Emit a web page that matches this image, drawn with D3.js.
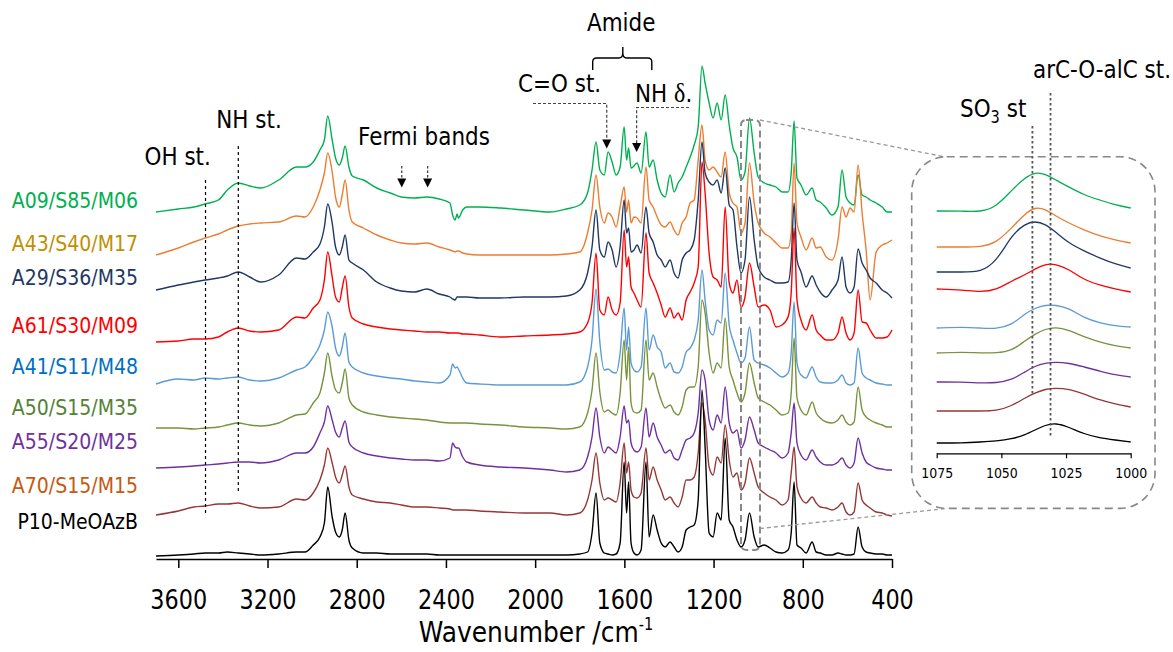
<!DOCTYPE html>
<html>
<head>
<meta charset="utf-8">
<script src="https://cdn.jsdelivr.net/npm/d3@7"></script>
<style>
body { margin: 0; background: #fff; }
svg { display: block; }
</style>
</head>
<body>
<script>
// wavenumber grid (cm-1), shared by all spectra
var wavenumbers = [3700,3600,3530,3480,3420,3380,3331,3280,3230,3150,3070,3032,2995,2965,2945,2930,2910,2895,2878,2865,2852,2835,2820,2770,2710,2650,2600,2540,2486,2430,2382,2370,2359,2350,2344,2325,2307,2250,2157,2050,1933,1860,
  1800,1765,1745,1727,1710,1690,1673,1655,1637,1619,1601,1590,1581,1570,1557,1543,1525,1503,1489,1471,1453,1435,1417,1395,1377,1359,1341,1323,1305,1287,1269,1252,1238,1220,1202,1184,1166,1148,1130,1113,
  1095,1077,1059,1039,1018,1000,973,947,920,893,866,852,839,826,808,785,758,740,722,695,669,642,624,606,588,570,552,534,516,498,471,444,422,400];

// stacked absorbance (offset, a.u.)
var a09 = [344,347,349,352,356,366,373,370,368,376,389,389,394,406,416,440,416,398,391,398,410,389,380,376,368,363,359,358,359,357,353,341,336,342,338,346,349,349,348,346,344,347,
  351,363,386,414,386,381,404,394,381,389,429,396,408,388,390,393,383,424,389,396,376,363,359,381,364,373,379,389,399,411,429,490,473,453,438,453,436,461,431,408,
  399,376,384,438,403,379,373,371,369,364,364,383,435,378,371,361,368,356,354,348,341,349,386,359,353,351,381,361,359,356,353,349,344,344];
var a43 = [301,308,314,318,322,326,330,332,333,334,340,339,349,366,383,403,384,359,349,361,376,346,334,328,321,316,313,312,313,309,306,305,304,305,305,303,302,301,301,301,301,302,
  304,323,346,381,349,333,343,339,329,349,369,344,356,333,339,338,333,389,356,349,339,331,329,334,326,321,333,339,353,356,396,431,396,386,389,384,379,404,363,353,
  349,323,333,393,353,333,323,319,313,308,308,323,393,333,319,306,318,308,309,299,296,316,349,339,348,344,391,343,306,256,304,311,313,316];
var a29 = [266,271,274,276,278,280,284,279,274,281,298,297,304,312,329,352,333,309,301,309,321,296,293,286,274,268,265,264,267,262,259,257,256,259,259,259,259,258,258,259,259,260,
  266,283,309,346,306,299,314,306,289,309,356,323,328,304,306,311,303,349,323,314,301,296,289,296,283,278,296,303,306,316,356,414,383,374,371,376,363,388,351,346,
  309,283,296,359,316,289,279,276,273,273,274,296,353,296,284,269,280,271,264,259,266,276,299,269,263,269,307,293,286,278,273,266,263,258];
var a61 = [214,215,217,217,219,224,228,225,224,226,239,238,248,256,276,304,279,259,254,268,280,249,238,232,229,227,226,225,224,224,223,223,223,223,223,222,222,221,219,220,221,222,
  224,233,253,303,246,241,259,246,241,253,326,289,299,269,263,256,249,323,283,273,263,251,239,248,238,243,236,256,264,273,289,394,363,303,279,276,269,349,273,263,
  276,249,259,293,269,249,251,246,229,231,239,263,328,256,236,226,241,226,221,216,216,223,239,223,216,223,266,234,233,226,218,218,219,226];
var a41 = [172,177,176,178,177,178,179,176,175,178,186,189,199,211,226,244,229,208,200,209,223,194,189,183,180,178,177,175,174,173,181,192,188,189,187,178,173,172,171,171,171,171,
  174,189,216,267,214,186,187,184,183,203,248,206,229,193,186,184,189,248,206,221,209,204,188,193,184,183,189,204,208,216,236,286,256,226,221,236,233,283,231,216,
  203,193,198,229,196,193,191,188,183,179,183,203,254,193,181,178,189,179,174,173,173,176,181,173,171,173,208,183,178,176,173,172,171,171];
var a50 = [128,128,127,128,129,131,133,131,130,133,141,142,153,163,183,203,179,166,163,173,187,158,151,144,141,139,138,137,136,134,133,133,133,133,133,133,133,132,131,129,128,127,
  129,143,166,203,164,144,146,143,141,163,216,176,209,153,144,143,146,216,176,183,169,156,148,151,144,141,149,166,169,169,189,256,243,203,183,193,188,238,189,176,
  163,154,163,193,173,158,154,151,146,141,143,163,218,158,146,141,154,143,138,134,133,136,141,134,131,134,169,146,139,136,133,131,129,129];
var a55 = [88,89,90,91,92,93,94,94,93,96,103,103,109,123,134,150,136,124,119,128,135,114,109,103,100,98,97,96,96,95,98,113,109,108,108,99,94,91,89,88,86,84,
  86,99,119,148,119,103,109,106,103,119,150,133,136,113,106,104,109,148,119,133,119,111,103,106,98,96,106,116,118,123,143,186,176,136,126,141,133,169,133,123,
  126,108,116,139,126,113,109,106,103,98,103,123,153,113,101,96,106,99,94,91,91,94,98,91,88,93,118,103,94,91,88,87,86,86];
var a70 = [41,45,49,50,52,52,53,50,48,49,57,56,63,76,91,108,93,79,73,81,90,69,61,57,54,53,51,49,49,48,47,46,46,46,46,46,46,45,44,43,43,41,
  43,56,76,103,73,56,58,56,54,73,113,83,94,66,59,58,63,108,76,89,76,66,56,59,53,49,59,76,76,79,103,153,136,89,81,99,93,131,96,79,
  83,66,73,98,83,69,63,59,56,51,56,83,109,69,58,53,59,53,49,48,46,49,53,44,41,44,73,56,51,48,44,43,41,40];
var p10 = [0,1,2,3,3,4,3,2,1,2,4,4,11,19,33,69,39,24,19,26,43,16,8,3,3,2,2,2,2,1,1,1,1,1,1,1,1,1,1,1,1,1,
  2,4,23,63,13,3,2,1,2,13,94,43,74,13,3,1,6,94,19,41,26,13,9,14,9,4,9,26,29,31,56,166,109,23,19,43,36,118,36,29,
  16,9,16,43,19,9,11,8,4,3,6,23,74,11,8,3,14,4,3,1,1,3,2,1,1,2,29,9,4,3,2,2,1,1];

var sampleNames = ["A09/S85/M06","A43/S40/M17","A29/S36/M35","A61/S30/M09","A41/S11/M48","A50/S15/M35","A55/S20/M25","A70/S15/M15","P10-MeOAzB"];
var spectra = [a09, a43, a29, a61, a41, a50, a55, a70, p10];

// zoomed 1075-1000 cm-1 region (inset), stacked
var insetWn = [1075,1065,1058,1052,1046,1041,1037,1033,1029,1024,1018,1012,1006,1000];
var insetA09 = [242,242,241,246,263,275,281,279,273,266,258,253,248,245];
var insetA43 = [206,206,206,210,225,239,246,244,237,230,223,217,213,210];
var insetA29 = [181,181,181,191,218,229,232,229,221,210,202,195,189,185];
var insetA61 = [164,163,161,163,172,178,184,189,189,184,173,168,164,161];
var insetA41 = [125,126,125,124,128,139,145,148,148,145,135,130,127,126];
var insetA50 = [100,101,100,100,102,112,119,124,126,123,116,111,107,105];
var insetA55 = [71,71,70,70,73,81,87,90,91,90,86,82,78,76];
var insetA70 = [42,42,42,42,47,55,60,64,65,64,59,53,49,46];
var insetP10 = [10,10,11,12,14,18,23,28,30,26,19,15,13,11];
var insetSpectra = [insetA09, insetA43, insetA29, insetA61, insetA41, insetA50, insetA55, insetA70, insetP10];

var xTicks = [3600,3200,2800,2400,2000,1600,1200,800,400];
var insetTicks = [1075,1050,1025,1000];

// band positions marked on the chart (cm-1)
var ohBand = 3478, nhBand = 3331;
var fermiBands = [2598, 2482];
var coBand = 1679, nhBendBand = 1545;
var so3Band = 1038, ethBand = 1031;

var lineColors = ["#00b050","#ed7d31","#1f3864","#ff0000","#5b9bd5","#77933c","#7030a0","#953735","#000000"];
var textColors = ["#00b050","#bf9000","#1f3864","#ff0000","#0070c0","#548235","#7030a0","#c55a11","#000000"];
// baselines of the sample names, left of the plot
var nameY = [208, 251, 285, 333, 374, 415, 449, 493, 529];

var W = 1173, H = 652;
var SX = 0.86; // narrow the glyphs a bit, the original uses Tahoma
var FONT = "'DejaVu Sans', Verdana, sans-serif";

var svg = d3.select("body").append("svg")
  .attr("width", W)
  .attr("height", H)
  .style("background", "#fff");

var x = d3.scaleLinear().domain([3700, 400]).range([156, 892]);
var y = d3.scaleLinear().domain([0, 500]).range([556, 56]);

var xi = d3.scaleLinear().domain([1075, 1000]).range([936.7, 1130.7]);
var yi = d3.scaleLinear().domain([0, 300]).range([453, 153]);

function txt(sel, px, py, s, size, fill, anchor) {
  return sel.append("text")
    .attr("transform", "translate(" + px + "," + py + ") scale(" + SX + ",1)")
    .attr("font-family", FONT)
    .attr("font-size", size)
    .attr("fill", fill || "#000")
    .attr("text-anchor", anchor || "start")
    .text(s);
}

function arrowHead(sel, px, tipY) {
  sel.append("path")
    .attr("d", "M" + (px - 4.5) + "," + (tipY - 9) + "L" + (px + 4.5) + "," + (tipY - 9) + "L" + px + "," + tipY + "Z")
    .attr("fill", "#000");
}

// ---- spectra ----
var line = d3.line()
  .x(function(d, i) { return x(wavenumbers[i]); })
  .y(function(d) { return y(d); })
  .curve(d3.curveMonotoneX);

svg.append("g").selectAll("path")
  .data(spectra)
  .join("path")
  .attr("d", line)
  .attr("fill", "none")
  .attr("stroke", function(d, i) { return lineColors[i]; })
  .attr("stroke-width", 1.4)
  .attr("stroke-linejoin", "round");

// sample names
sampleNames.forEach(function(n, i) {
  txt(svg, 138, nameY[i], n, 22, textColors[i], "end");
});

// ---- x axis ----
var gx = svg.append("g")
  .attr("transform", "translate(0,559)")
  .call(d3.axisBottom(x).tickValues(xTicks).tickSize(9).tickSizeOuter(0).tickPadding(23).tickFormat(d3.format("d")));
gx.select(".domain").attr("stroke", "#000").attr("stroke-width", 1.5);
gx.selectAll(".tick line").attr("stroke", "#000").attr("stroke-width", 1.5);
gx.selectAll(".tick text")
  .attr("font-family", FONT)
  .attr("font-size", 26)
  .attr("fill", "#000")
  .attr("transform", "scale(" + SX + ",1)");

var title = txt(svg, 536, 642, "Wavenumber /cm", 29, "#000", "middle");
title.append("tspan").attr("font-size", 17).attr("dy", -12).text("-1");

// ---- band markers ----
var dotted = "3,3";
svg.append("line")
  .attr("x1", x(ohBand)).attr("x2", x(ohBand)).attr("y1", 180).attr("y2", 513)
  .attr("stroke", "#000").attr("stroke-width", 1.2).attr("stroke-dasharray", dotted);
svg.append("line")
  .attr("x1", x(nhBand)).attr("x2", x(nhBand)).attr("y1", 146).attr("y2", 491)
  .attr("stroke", "#000").attr("stroke-width", 1.2).attr("stroke-dasharray", dotted);
txt(svg, x(ohBand) - 61, 165, "OH st.", 25);
txt(svg, x(nhBand) - 22, 128, "NH st.", 25);

// Fermi bands
txt(svg, 358, 145, "Fermi bands", 25);
fermiBands.forEach(function(b) {
  svg.append("line")
    .attr("x1", x(b)).attr("x2", x(b)).attr("y1", 166).attr("y2", 179)
    .attr("stroke", "#333").attr("stroke-width", 1.2).attr("stroke-dasharray", "2.5,2");
  arrowHead(svg, x(b), 187.5);
});

// Amide brace
var bl = x(1742), br = x(1477), bm = x(1607);
svg.append("path")
  .attr("d", "M" + bl + ",70 L" + bl + ",62 Q" + bl + ",58 " + (bl + 4) + ",58 L" + (bm - 4) + ",58 Q" + bm + ",58 " + bm + ",53 L" + bm + ",47" +
             " M" + bm + ",53 Q" + bm + ",58 " + (bm + 4) + ",58 L" + (br - 4) + ",58 Q" + br + ",58 " + br + ",62 L" + br + ",70")
  .attr("fill", "none").attr("stroke", "#000").attr("stroke-width", 1.4);
txt(svg, 587, 31, "Amide", 25);

// C=O stretch arrow
txt(svg, 518, 92, "C=O st.", 25);
svg.append("path")
  .attr("d", "M533,103.5 L" + x(coBand) + ",103.5 L" + x(coBand) + ",140")
  .attr("fill", "none").attr("stroke", "#444").attr("stroke-width", 1.2).attr("stroke-dasharray", "3,2");
arrowHead(svg, x(coBand), 148.5);

// NH bending arrow
var nhd = txt(svg, 635, 102, "NH ", 25);
nhd.append("tspan").attr("font-family", "'Liberation Serif', serif").attr("font-size", 28).text("\u03b4");
nhd.append("tspan").text(".");
svg.append("path")
  .attr("d", "M689,107.5 L" + x(nhBendBand) + ",107.5 L" + x(nhBendBand) + ",143")
  .attr("fill", "none").attr("stroke", "#444").attr("stroke-width", 1.2).attr("stroke-dasharray", "3,2");
arrowHead(svg, x(nhBendBand), 152);

// ---- zoom box and connectors ----
var zx0 = x(1077), zx1 = x(992);
svg.append("rect")
  .attr("x", zx0).attr("y", 120).attr("width", zx1 - zx0).attr("height", 430)
  .attr("rx", 5)
  .attr("fill", "none").attr("stroke", "#888").attr("stroke-width", 2).attr("stroke-dasharray", "7,4");
svg.append("line")
  .attr("x1", zx1).attr("y1", 120).attr("x2", 944).attr("y2", 156.7)
  .attr("stroke", "#999").attr("stroke-width", 1.3).attr("stroke-dasharray", "4,3");
svg.append("line")
  .attr("x1", zx1).attr("y1", 528.5).attr("x2", 948).attr("y2", 508.3)
  .attr("stroke", "#999").attr("stroke-width", 1.3).attr("stroke-dasharray", "4,3");

// ---- inset ----
svg.append("rect")
  .attr("x", 911.7).attr("y", 156.7).attr("width", 243.3).attr("height", 351.7)
  .attr("rx", 35)
  .attr("fill", "#fff").attr("stroke", "#888").attr("stroke-width", 1.6).attr("stroke-dasharray", "8,5");

var iline = d3.line()
  .x(function(d, i) { return xi(insetWn[i]); })
  .y(function(d) { return yi(d); })
  .curve(d3.curveBasis);

svg.append("g").selectAll("path")
  .data(insetSpectra)
  .join("path")
  .attr("d", iline)
  .attr("fill", "none")
  .attr("stroke", function(d, i) { return lineColors[i]; })
  .attr("stroke-width", 1.3);

svg.append("line")
  .attr("x1", xi(so3Band)).attr("x2", xi(so3Band)).attr("y1", 126).attr("y2", 395)
  .attr("stroke", "#555").attr("stroke-width", 1.8).attr("stroke-dasharray", "2.5,2.5");
svg.append("line")
  .attr("x1", xi(ethBand)).attr("x2", xi(ethBand)).attr("y1", 93).attr("y2", 437)
  .attr("stroke", "#555").attr("stroke-width", 1.8).attr("stroke-dasharray", "2.5,2.5");

var so3 = txt(svg, 960, 117, "SO", 25);
so3.append("tspan").attr("font-size", 17).attr("dy", 6).text("3");
so3.append("tspan").attr("dy", -6).text(" st");
txt(svg, 1033, 78, "arC-O-alC st.", 25);

var gi = svg.append("g")
  .attr("transform", "translate(0,453.3)")
  .call(d3.axisBottom(xi).tickValues(insetTicks).tickSize(5).tickSizeOuter(0).tickPadding(9).tickFormat(d3.format("d")));
gi.select(".domain").attr("stroke", "#000").attr("stroke-width", 1.2);
gi.selectAll(".tick line").attr("stroke", "#000").attr("stroke-width", 1.2);
gi.selectAll(".tick text")
  .attr("font-family", FONT)
  .attr("font-size", 14.6)
  .attr("fill", "#000")
  .attr("transform", "scale(" + SX + ",1)");
</script>
</body>
</html>
